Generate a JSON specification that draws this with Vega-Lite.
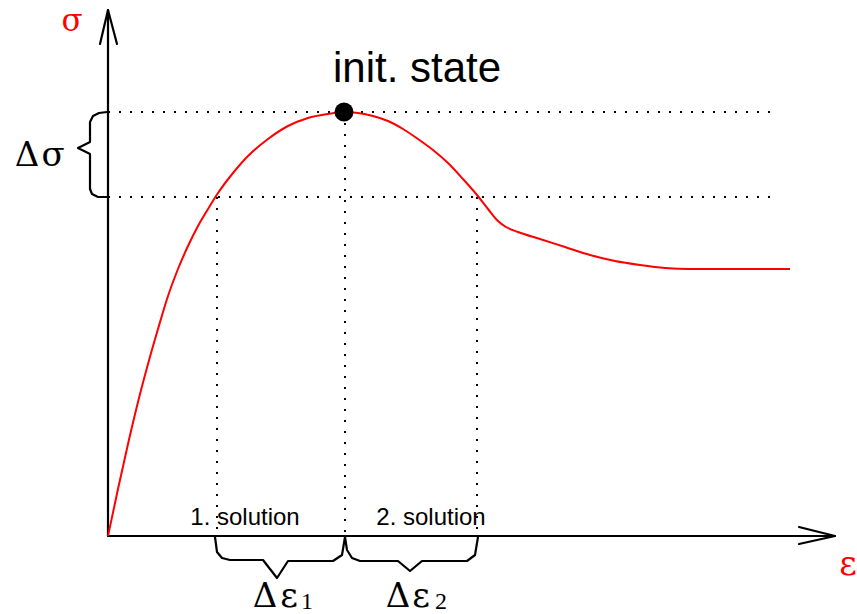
{
  "$schema": "https://vega.github.io/schema/vega-lite/v6.json",
  "width": 857,
  "height": 614,
  "padding": 0,
  "autosize": {"type": "none"},
  "background": "white",
  "config": {"view": {"stroke": null}},
  "datasets": {
    "curve": [
      {"e": 0, "s": 0}, {"e": 10, "s": 47}, {"e": 20, "s": 92}, {"e": 30, "s": 134},
      {"e": 40, "s": 172}, {"e": 50, "s": 207}, {"e": 60, "s": 240}, {"e": 70, "s": 267},
      {"e": 80, "s": 290}, {"e": 90, "s": 310}, {"e": 100, "s": 327}, {"e": 110, "s": 343},
      {"e": 125, "s": 363}, {"e": 140, "s": 380}, {"e": 160, "s": 397}, {"e": 180, "s": 410},
      {"e": 200, "s": 418}, {"e": 220, "s": 422}, {"e": 236, "s": 424}, {"e": 250, "s": 423},
      {"e": 265, "s": 420}, {"e": 280, "s": 415}, {"e": 295, "s": 407}, {"e": 310, "s": 397},
      {"e": 325, "s": 386}, {"e": 340, "s": 373}, {"e": 355, "s": 357}, {"e": 369, "s": 341},
      {"e": 380, "s": 327}, {"e": 390, "s": 315}, {"e": 398, "s": 309}, {"e": 410, "s": 304},
      {"e": 432, "s": 297}, {"e": 457, "s": 289}, {"e": 482, "s": 281}, {"e": 507, "s": 275},
      {"e": 532, "s": 271}, {"e": 557, "s": 268}, {"e": 582, "s": 267}, {"e": 632, "s": 267},
      {"e": 682, "s": 267}
    ],
    "strokes": [
      {"id": "sigma-axis", "ord": 0, "e": 0, "s": 0},
      {"id": "sigma-axis", "ord": 1, "e": 0, "s": 526},
      {"id": "sigma-head", "ord": 0, "e": -8, "s": 492},
      {"id": "sigma-head", "ord": 1, "e": 0, "s": 526},
      {"id": "sigma-head", "ord": 2, "e": 9, "s": 492},
      {"id": "eps-axis", "ord": 0, "e": 0, "s": 0},
      {"id": "eps-axis", "ord": 1, "e": 727, "s": 0},
      {"id": "eps-head", "ord": 0, "e": 691, "s": 9},
      {"id": "eps-head", "ord": 1, "e": 727, "s": 0},
      {"id": "eps-head", "ord": 2, "e": 691, "s": -8},
      {"id": "brace-dsigma", "ord": 0, "e": -1, "s": 424},
      {"id": "brace-dsigma", "ord": 1, "e": -9, "s": 423},
      {"id": "brace-dsigma", "ord": 2, "e": -15, "s": 420},
      {"id": "brace-dsigma", "ord": 3, "e": -18, "s": 414},
      {"id": "brace-dsigma", "ord": 4, "e": -18, "s": 394},
      {"id": "brace-dsigma", "ord": 5, "e": -30, "s": 388},
      {"id": "brace-dsigma", "ord": 6, "e": -18, "s": 382},
      {"id": "brace-dsigma", "ord": 7, "e": -18, "s": 347},
      {"id": "brace-dsigma", "ord": 8, "e": -16, "s": 342},
      {"id": "brace-dsigma", "ord": 9, "e": -10, "s": 339},
      {"id": "brace-dsigma", "ord": 10, "e": -1, "s": 339},
      {"id": "brace-deps1", "ord": 0, "e": 107, "s": -1},
      {"id": "brace-deps1", "ord": 1, "e": 109, "s": -16},
      {"id": "brace-deps1", "ord": 2, "e": 114, "s": -22},
      {"id": "brace-deps1", "ord": 3, "e": 122, "s": -24},
      {"id": "brace-deps1", "ord": 4, "e": 155, "s": -24},
      {"id": "brace-deps1", "ord": 5, "e": 169, "s": -42},
      {"id": "brace-deps1", "ord": 6, "e": 180, "s": -25},
      {"id": "brace-deps1", "ord": 7, "e": 225, "s": -25},
      {"id": "brace-deps1", "ord": 8, "e": 234, "s": -19},
      {"id": "brace-deps1", "ord": 9, "e": 236, "s": -7},
      {"id": "brace-deps1", "ord": 10, "e": 237, "s": -1},
      {"id": "brace-deps2", "ord": 0, "e": 237, "s": -1},
      {"id": "brace-deps2", "ord": 1, "e": 239, "s": -14},
      {"id": "brace-deps2", "ord": 2, "e": 244, "s": -22},
      {"id": "brace-deps2", "ord": 3, "e": 252, "s": -25},
      {"id": "brace-deps2", "ord": 4, "e": 290, "s": -25},
      {"id": "brace-deps2", "ord": 5, "e": 302, "s": -35},
      {"id": "brace-deps2", "ord": 6, "e": 314, "s": -25},
      {"id": "brace-deps2", "ord": 7, "e": 359, "s": -25},
      {"id": "brace-deps2", "ord": 8, "e": 367, "s": -19},
      {"id": "brace-deps2", "ord": 9, "e": 369, "s": -7},
      {"id": "brace-deps2", "ord": 10, "e": 370, "s": -1}
    ],
    "guides": [
      {"e": 0, "s": 424, "e2": 662, "s2": 424},
      {"e": 0, "s": 339, "e2": 662, "s2": 339},
      {"e": 109, "s": 339, "e2": 109, "s2": 0},
      {"e": 237, "s": 424, "e2": 237, "s2": 0},
      {"e": 369, "s": 339, "e2": 369, "s2": 0}
    ],
    "peak": [{"e": 236, "s": 424}],
    "titleText": [{"label": "init. state", "e": 309, "s": 454}],
    "solutionText": [
      {"label": "1. solution", "e": 137, "s": 11},
      {"label": "2. solution", "e": 323, "s": 11}
    ],
    "sigmaSymbol": [
      {"label": "σ", "e": -36, "s": 505}
    ],
    "epsSymbol": [
      {"label": "ε", "e": 740, "s": -39}
    ],
    "deltaSymbols": [
      {"label": "Δ", "e": -81, "s": 370},
      {"label": "σ", "e": -55, "s": 370},
      {"label": "Δ", "e": 157, "s": -71},
      {"label": "ε", "e": 181, "s": -71},
      {"label": "Δ", "e": 290, "s": -71},
      {"label": "ε", "e": 313, "s": -71}
    ],
    "subscripts": [
      {"label": "1", "e": 199, "s": -73},
      {"label": "2", "e": 333, "s": -73}
    ]
  },
  "encoding": {
    "x": {"field": "e", "type": "quantitative", "axis": null,
          "scale": {"domain": [-108, 749], "nice": false, "zero": false}},
    "y": {"field": "s", "type": "quantitative", "axis": null,
          "scale": {"domain": [-78, 536], "nice": false, "zero": false}}
  },
  "layer": [
    {
      "data": {"name": "guides"},
      "mark": {"type": "rule", "color": "black", "strokeWidth": 2, "strokeDash": [2, 9]},
      "encoding": {
        "x2": {"field": "e2"},
        "y2": {"field": "s2"}
      }
    },
    {
      "data": {"name": "strokes"},
      "mark": {"type": "line", "color": "black", "strokeWidth": 2.2, "strokeJoin": "round", "strokeCap": "round"},
      "encoding": {
        "detail": {"field": "id", "type": "nominal"},
        "order": {"field": "ord", "type": "quantitative"}
      }
    },
    {
      "data": {"name": "curve"},
      "mark": {"type": "line", "color": "#ff0000", "strokeWidth": 2, "interpolate": "monotone"},
      "encoding": {}
    },
    {
      "data": {"name": "peak"},
      "mark": {"type": "point", "shape": "circle", "filled": true, "color": "black", "opacity": 1, "size": 360},
      "encoding": {}
    },
    {
      "data": {"name": "titleText"},
      "mark": {"type": "text", "font": "Liberation Sans", "fontSize": 42, "align": "center", "baseline": "alphabetic", "color": "black"},
      "encoding": {"text": {"field": "label"}}
    },
    {
      "data": {"name": "solutionText"},
      "mark": {"type": "text", "font": "Liberation Sans", "fontSize": 24, "align": "center", "baseline": "alphabetic", "color": "black"},
      "encoding": {"text": {"field": "label"}}
    },
    {
      "data": {"name": "sigmaSymbol"},
      "mark": {"type": "text", "font": "DejaVu Serif", "fontSize": 31, "align": "center", "baseline": "alphabetic", "color": "#ff0000"},
      "encoding": {"text": {"field": "label"}}
    },
    {
      "data": {"name": "epsSymbol"},
      "mark": {"type": "text", "font": "DejaVu Serif", "fontSize": 34, "align": "center", "baseline": "alphabetic", "color": "#ff0000"},
      "encoding": {"text": {"field": "label"}}
    },
    {
      "data": {"name": "deltaSymbols"},
      "mark": {"type": "text", "font": "DejaVu Serif", "fontSize": 34, "align": "center", "baseline": "alphabetic", "color": "black"},
      "encoding": {"text": {"field": "label"}}
    },
    {
      "data": {"name": "subscripts"},
      "mark": {"type": "text", "font": "Liberation Serif", "fontSize": 24, "align": "center", "baseline": "alphabetic", "color": "black"},
      "encoding": {"text": {"field": "label"}}
    }
  ]
}
